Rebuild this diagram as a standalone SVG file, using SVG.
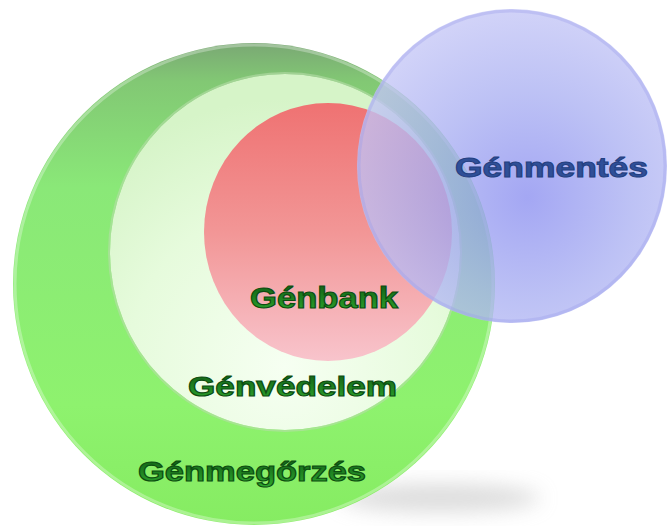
<svg xmlns="http://www.w3.org/2000/svg" width="672" height="527" viewBox="0 0 672 527">
  <style>
    .lbl { font-family: "Liberation Sans", Arial, sans-serif; font-weight: bold; }
    .g { fill: url(#txtGreen); stroke: #0c4d10; stroke-width: 1.1; }
    .b { fill: #2f4f98; stroke: #243f80; stroke-width: 1; }
  </style>
  <defs>
    <linearGradient id="outerFill" x1="0" y1="0" x2="0" y2="1">
      <stop offset="0" stop-color="#7aa874"/>
      <stop offset="0.08" stop-color="#82c874"/>
      <stop offset="0.3" stop-color="#8ae878"/>
      <stop offset="0.75" stop-color="#8ef26e"/>
      <stop offset="1" stop-color="#86ec62"/>
    </linearGradient>
    <radialGradient id="innerFill" cx="0.5" cy="0.82" r="0.75">
      <stop offset="0" stop-color="#f6fff2"/>
      <stop offset="0.6" stop-color="#e6fbdc"/>
      <stop offset="1" stop-color="#d6f4c8"/>
    </radialGradient>
    <linearGradient id="redFill" x1="0" y1="0" x2="0" y2="1">
      <stop offset="0" stop-color="#ef7272"/>
      <stop offset="0.5" stop-color="#f29696"/>
      <stop offset="1" stop-color="#f8c4cc"/>
    </linearGradient>
    <radialGradient id="blueFill" cx="0.55" cy="0.6" r="0.6">
      <stop offset="0" stop-color="#8a8ef0"/>
      <stop offset="0.55" stop-color="#aab0f2"/>
      <stop offset="1" stop-color="#c4c6f6"/>
    </radialGradient>
    <linearGradient id="txtGreen" x1="0" y1="0" x2="0" y2="1">
      <stop offset="0" stop-color="#0f5a14"/>
      <stop offset="1" stop-color="#2ea82e"/>
    </linearGradient>
    <filter id="blur" x="-50%" y="-50%" width="200%" height="200%">
      <feGaussianBlur stdDeviation="10"/>
    </filter>
  </defs>

  <rect width="672" height="527" fill="#ffffff"/>

  <ellipse cx="440" cy="498" rx="100" ry="14" fill="#c0c0c0" opacity="0.55" filter="url(#blur)"/>

  <g id="genmegorzes">
    <circle cx="254" cy="284" r="241" fill="url(#outerFill)"/>
    <circle cx="254" cy="284" r="239" fill="none" stroke="#ffffff" stroke-opacity="0.3" stroke-width="3"/>
    <text class="lbl g" x="138" y="481" font-size="28" textLength="228" lengthAdjust="spacingAndGlyphs">Génmegőrzés</text>
  </g>

  <g id="genvedelem">
    <ellipse cx="285" cy="252" rx="175" ry="178" fill="url(#innerFill)"/>
    <ellipse cx="285" cy="252" rx="176" ry="179" fill="none" stroke="#b8dcaa" stroke-opacity="0.6" stroke-width="2"/>
    <text class="lbl g" x="188" y="396" font-size="28" textLength="209" lengthAdjust="spacingAndGlyphs">Génvédelem</text>
  </g>

  <g id="genbank">
    <ellipse cx="328" cy="232" rx="124" ry="129" fill="url(#redFill)"/>
    <text class="lbl g" x="250" y="308" font-size="29" textLength="148" lengthAdjust="spacingAndGlyphs">Génbank</text>
  </g>

  <g id="genmentes">
    <ellipse cx="512" cy="166" rx="155" ry="157" fill="url(#blueFill)" fill-opacity="0.78"/>
    <ellipse cx="512" cy="166" rx="153" ry="155" fill="none" stroke="#9a9eea" stroke-opacity="0.35" stroke-width="3"/>
    <text class="lbl b" x="455" y="177" font-size="27" textLength="193" lengthAdjust="spacingAndGlyphs">Génmentés</text>
  </g>
</svg>
